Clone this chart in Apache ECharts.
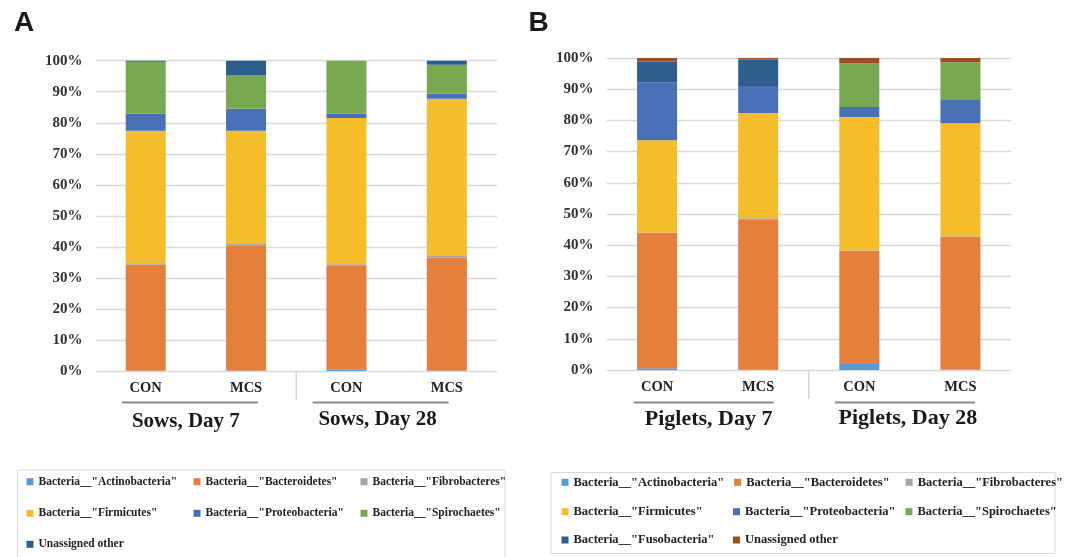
<!DOCTYPE html>
<html>
<head>
<meta charset="utf-8">
<script src="https://cdn.jsdelivr.net/npm/echarts@6/dist/echarts.min.js"></script>
<style>html,body{margin:0;padding:0;background:#fff}#c{width:1069px;height:557px}</style>
</head>
<body>
<div id="c"></div>
<script>
// ---- data ----
const categories = ['CON', 'MCS', 'CON', 'MCS'];
const groupsA = ['Sows, Day 7', 'Sows, Day 28'];
const groupsB = ['Piglets, Day 7', 'Piglets, Day 28'];

const namesA = ['Bacteria__"Actinobacteria"', 'Bacteria__"Bacteroidetes"', 'Bacteria__"Fibrobacteres"',
  'Bacteria__"Firmicutes"', 'Bacteria__"Proteobacteria"', 'Bacteria__"Spirochaetes"', 'Unassigned other'];
const namesB = ['Bacteria__"Actinobacteria"', 'Bacteria__"Bacteroidetes"', 'Bacteria__"Fibrobacteres"',
  'Bacteria__"Firmicutes"', 'Bacteria__"Proteobacteria"', 'Bacteria__"Spirochaetes"',
  'Bacteria__"Fusobacteria"', 'Unassigned other'];

// Panel A (sows) – percent
const actinoA = [0.1, 0.2, 0.5, 0.2];
const bactA   = [34.2, 40.3, 33.6, 36.4];
const fibroA  = [0.4, 0.4, 0.3, 0.7];
const firmA   = [42.7, 36.5, 47.1, 50.4];
const proteoA = [5.6, 7.1, 1.5, 1.7];
const spiroA  = [16.7, 10.7, 17.0, 9.3];
const unassA  = [0.3, 4.8, 0.0, 1.3];

// Panel B (piglets) – percent
const actinoB = [0.6, 0.1, 1.9, 0.2];
const bactB   = [43.4, 48.2, 36.3, 42.6];
const fibroB  = [0.1, 0.3, 0.1, 0.1];
const firmB   = [29.5, 33.8, 42.8, 36.2];
const proteoB = [18.6, 8.6, 3.2, 7.4];
const spiroB  = [0, 0, 14.0, 12.1];
const fusoB   = [6.7, 8.5, 0, 0];
const unassB  = [1.1, 0.5, 1.7, 1.4];

const yTicks = [0, 10, 20, 30, 40, 50, 60, 70, 80, 90, 100];

// ---- styles ----
const colorsA = ['#5B9BD5', '#E67E3C', '#A5A5A5', '#F6BD2B', '#4A70B8', '#78A84F', '#2E5E8C'];
const colorsB = ['#5B9BD5', '#E67E3C', '#A5A5A5', '#F6BD2B', '#4A70B8', '#78A84F', '#2E5E8C', '#9E4C22'];
const valuesA = [actinoA, bactA, fibroA, firmA, proteoA, spiroA, unassA];
const valuesB = [actinoB, bactB, fibroB, firmB, proteoB, spiroB, fusoB, unassB];

const SERIF = '"Liberation Serif", "Times New Roman", serif';
const chart = echarts.init(document.getElementById('c'));

function makeSeries(names, values, colors, idx, prefix) {
  return names.map((n, i) => ({
    name: prefix + n,
    type: 'bar',
    stack: 'p' + idx,
    xAxisIndex: idx, yAxisIndex: idx,
    barWidth: 40,
    itemStyle: { color: colors[i] },
    emphasis: { disabled: true },
    data: values[i]
  }));
}

function yAxis(idx) {
  return {
    gridIndex: idx, type: 'value', min: 0, max: 100, interval: 10,
    axisLine: { show: false }, axisTick: { show: false },
    splitLine: { lineStyle: { color: '#d9d9d9', width: 1.3 } },
    axisLabel: { formatter: v => yTicks.includes(v) ? v + '%' : '', fontFamily: SERIF, fontWeight: 'bold', fontSize: 15, color: '#333', margin: 13 }
  };
}
function xAxis(idx) {
  return {
    gridIndex: idx, type: 'category', data: categories,
    axisLine: { show: false }, axisTick: { show: false },
    axisLabel: { fontFamily: SERIF, fontWeight: 'bold', fontSize: 14.5, color: '#222', margin: 10 }
  };
}

function legendRow(prefix, names, left, top, textW, fs) {
  return {
    left: left, top: top, width: 540, padding: 0, orient: 'horizontal', itemWidth: 7, itemHeight: 7, itemGap: 10,
    icon: 'rect', selectedMode: false,
    data: names.map(n => ({ name: prefix + n })),
    formatter: name => name.slice(2),
    textStyle: { fontFamily: SERIF, fontWeight: 'bold', fontSize: fs, color: '#222', width: textW, lineHeight: 14 }
  };
}

chart.setOption({
  animation: false,
  grid: [
    { left: 95.5, right: 1069 - 497, top: 60.7, bottom: 557 - 371 },
    { left: 606.5, right: 1069 - 1011, top: 58, bottom: 557 - 370 }
  ],
  xAxis: [xAxis(0), xAxis(1)],
  yAxis: [yAxis(0), yAxis(1)],
  legend: [
    legendRow('A|', namesA.slice(0, 3), 26.5, 474.7, 145, 11.5),
    legendRow('A|', namesA.slice(3, 6), 26.5, 506.3, 145, 11.5),
    legendRow('A|', namesA.slice(6), 26.5, 537.3, 145, 11.5),
    legendRow('B|', namesB.slice(0, 3), 561.5, 475.3, 149.5, 12.5),
    legendRow('B|', namesB.slice(3, 6), 561.5, 504.7, 149.5, 12.5),
    legendRow('B|', namesB.slice(6), 561.5, 533, 149.5, 12.5)
  ],
  series: [].concat(makeSeries(namesA, valuesA, colorsA, 0, 'A|'), makeSeries(namesB, valuesB, colorsB, 1, 'B|'))
});

// ---- decorations anchored on the axes ----
function catX(grid, i) { return chart.convertToPixel({ gridIndex: grid }, [i, 0])[0]; }
function baseY(grid) { return chart.convertToPixel({ gridIndex: grid }, [0, 0])[1]; }

const g = [];
const panelCfg = [
  { grid: 0, groups: groupsA, lineOff: [-6, -16], halfW: [68, 68], textOff: [-10, -19], textY: [421.5, 420], fs: 21 },
  { grid: 1, groups: groupsB, lineOff: [-4, -5], halfW: [70, 70], textOff: [1, -2], textY: [419.3, 418], fs: 22 }
];
panelCfg.forEach(p => {
  const y0 = baseY(p.grid);
  // divider between groups
  const mid = (catX(p.grid, 1) + catX(p.grid, 2)) / 2;
  g.push({ type: 'line', shape: { x1: mid, y1: y0 + 1, x2: mid, y2: y0 + 29 }, style: { stroke: '#d0d0d0', lineWidth: 1.3 } });
  [0, 1].forEach(k => {
    const c = (catX(p.grid, 2 * k) + catX(p.grid, 2 * k + 1)) / 2;
    const lc = c + p.lineOff[k];
    g.push({ type: 'line', shape: { x1: lc - p.halfW[k], y1: 402.5, x2: lc + p.halfW[k], y2: 402.5 }, style: { stroke: '#8c8c8c', lineWidth: 2 } });
    g.push({ type: 'text', x: c + p.textOff[k], y: p.textY[k], style: { text: p.groups[k], fontFamily: SERIF, fontWeight: 'bold', fontSize: p.fs, fill: '#1a1a1a', align: 'center', verticalAlign: 'middle' } });
  });
});
// panel letters
g.push({ type: 'text', x: 14, y: 23, style: { text: 'A', fontFamily: '"Liberation Sans", Arial, sans-serif', fontWeight: 'bold', fontSize: 28, fill: '#1a1a1a', verticalAlign: 'middle' } });
g.push({ type: 'text', x: 528.5, y: 23, style: { text: 'B', fontFamily: '"Liberation Sans", Arial, sans-serif', fontWeight: 'bold', fontSize: 28, fill: '#1a1a1a', verticalAlign: 'middle' } });
// legend frames
g.push({ type: 'rect', z: -1, shape: { x: 17.5, y: 470, width: 487.5, height: 95 }, style: { fill: 'none', stroke: '#d9d9d9', lineWidth: 1 } });
g.push({ type: 'rect', z: -1, shape: { x: 551, y: 472.5, width: 504, height: 81 }, style: { fill: 'none', stroke: '#d9d9d9', lineWidth: 1 } });

chart.setOption({ graphic: g });
</script>
</body>
</html>
